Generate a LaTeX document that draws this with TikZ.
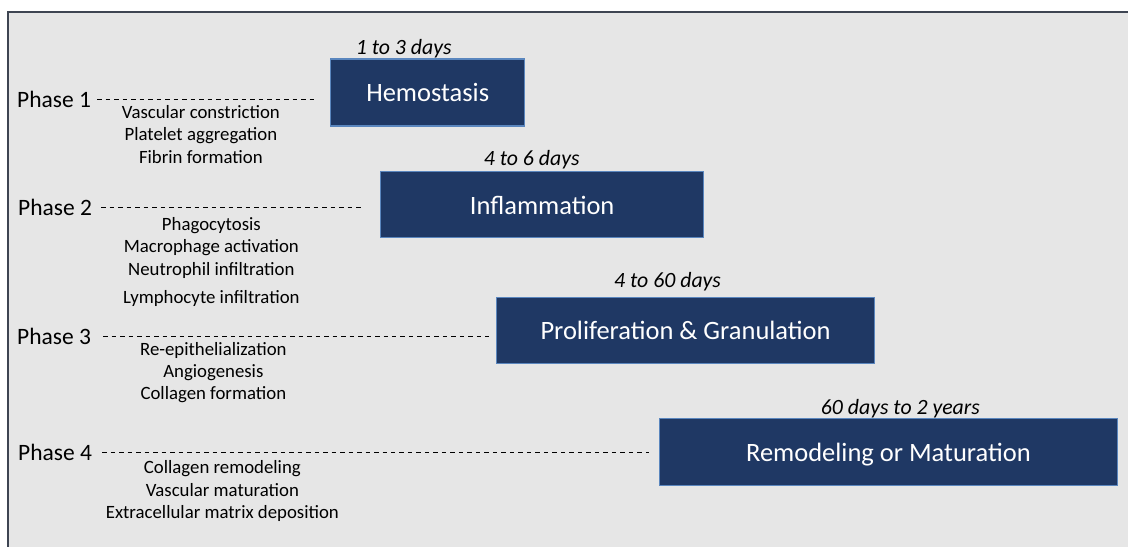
\documentclass[tikz,border=0pt]{standalone}
\usepackage{fontspec}
\setmainfont{Carlito}
\usepackage{tikz}
\definecolor{StageBlue}{HTML}{1F3864}
\definecolor{StageEdge}{HTML}{5A86BE}
\definecolor{PanelBg}{HTML}{E6E6E6}
\definecolor{PanelLine}{HTML}{3E4552}
\usetikzlibrary{calc}

\begin{document}
\begin{tikzpicture}[x=1pt,y=-1pt,
    stage/.style={shape=rectangle,
      draw=StageEdge,
      line width=1.2pt,
      fill=StageBlue,
      text=white,
      inner sep=0pt,
      text height=18.4pt,
      text depth=0pt,
      font=\fontsize{26.5}{30}\selectfont},
    phase/.style={anchor=west,
      inner sep=0pt,
      font=\fontsize{23.5}{28}\selectfont},
    span/.style={inner sep=0pt,
      font=\fontsize{21.8}{26}\selectfont\itshape},
    tasks/.style={anchor=north,
      align=center,
      inner sep=0pt,
      font=\fontsize{18.8}{22.5}\selectfont},
    lead/.style={dash pattern=on 4.5pt off 4pt,
      line width=0.9pt}]

    % panel
    \fill[PanelBg] (8,12) rectangle (1129,547);
    \draw[PanelLine, line width=1.5pt] (8,547) -- (8,12) -- (1129,12);

    % stages
    \node[name=hemo, stage,
      minimum width=194pt, minimum height=67pt] at (428,92.5) {Hemostasis};
    \node[name=infl, stage,
      minimum width=323pt, minimum height=66pt] at (542.5,205) {Inflammation};
    \node[name=prolif, stage,
      minimum width=378pt, minimum height=66pt] at (686,331) {Proliferation \& Granulation};
    \node[name=remod, stage,
      minimum width=458pt, minimum height=67pt] at (889,452.5) {Remodeling or Maturation};

    % durations
    \node[name=hemospan, span] at (404,48.5) {1 to 3 days};
    \node[name=inflspan, span] at (532,159.5) {4 to 6 days};
    \node[name=prolifspan, span] at (668,281.5) {4 to 60 days};
    \node[name=remodspan, span] at (901,408.5) {60 days to 2 years};

    % phases
    \node[name=ph1, phase] at (17,100) {Phase 1};
    \node[name=ph2, phase] at (18,208) {Phase 2};
    \node[name=ph3, phase] at (17,337) {Phase 3};
    \node[name=ph4, phase] at (18,453) {Phase 4};

    \draw[lead, shorten <=6pt, shorten >=14pt] (ph1.east) -- (ph1.east -| hemo.west);
    \draw[lead, shorten <=9pt, shorten >=16pt] (ph2.east) -- (ph2.east -| infl.west);
    \draw[lead, shorten <=12pt, shorten >=7pt] (ph3.east) -- (ph3.east -| prolif.west);
    \draw[lead, shorten <=10pt, shorten >=10pt] (ph4.east) -- (ph4.east -| remod.west);

    % events
    \node[name=ev1, tasks] at (201,105) {Vascular constriction\\Platelet aggregation\\Fibrin formation};
    \node[name=ev2, tasks] at (211.5,217) {Phagocytosis\\Macrophage activation\\Neutrophil infiltration\\[5.5pt]Lymphocyte infiltration};
    \node[name=ev3, tasks] at (213.5,342) {Re-epithelialization\\Angiogenesis\\Collagen formation};
    \node[name=ev4, tasks] at (222.5,461) {Collagen remodeling\\Vascular maturation\\Extracellular matrix deposition};

    \path [use as bounding box] (0,0) rectangle (1129,547);
  \end{tikzpicture}
\end{document}
